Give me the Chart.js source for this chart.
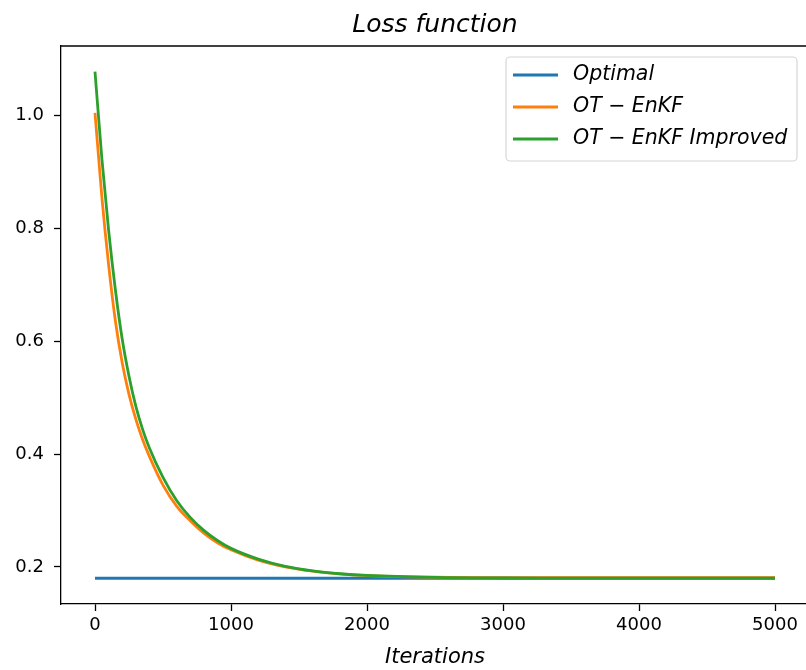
<!DOCTYPE html>
<html>
<head>
<meta charset="utf-8">
<script src="https://cdn.jsdelivr.net/npm/chart.js@4"></script>
<style>
  html, body { margin: 0; padding: 0; background: #fff; overflow: hidden; }
  #wrap { width: 812px; height: 670px; }
</style>
</head>
<body>
<div id="wrap"><canvas id="chart" width="812" height="670"></canvas></div>
<script>
// Values
const ITERS = [0, 50, 100, 150, 200, 250, 300, 350, 400, 500, 600, 700, 800, 900, 1000,
  1200, 1400, 1600, 1800, 2000, 2500, 3000, 3500, 4000, 4500, 5000];
const OT_ENKF = [1.005, 0.857, 0.736, 0.636, 0.562, 0.506, 0.462, 0.426, 0.396, 0.345, 0.308, 0.282,
  0.26, 0.243, 0.2305, 0.2122, 0.2, 0.1925, 0.1877, 0.1848, 0.1818, 0.1812, 0.181, 0.181, 0.181, 0.181];
const OT_ENKF_IMPROVED = [1.078, 0.925, 0.797, 0.691, 0.604, 0.538, 0.485, 0.444, 0.411, 0.359, 0.318, 0.288,
  0.265, 0.247, 0.233, 0.214, 0.201, 0.193, 0.188, 0.185, 0.1815, 0.1805, 0.1803, 0.1802, 0.1802, 0.1802];
const OPTIMAL_X = [0, 5000];
const OPTIMAL = [0.18, 0.18];

const X_TICKS = [0, 1000, 2000, 3000, 4000, 5000];
const Y_TICKS = [0.2, 0.4, 0.6, 0.8, 1.0];
const LABELS = ['Optimal', 'OT \u2212 EnKF', 'OT \u2212 EnKF Improved'];
const COLORS = ['#1f77b4', '#ff7f0e', '#2ca02c'];

const FONT = "'DejaVu Sans', sans-serif";

function pts(xs, ys) {
  return xs.map((x, i) => ({ x: x, y: ys[i] }));
}

// title, top spine and legend box drawn like matplotlib
const decorPlugin = {
  id: 'decor',
  afterDraw(chart) {
    const ctx = chart.ctx;
    const a = chart.chartArea;
    ctx.save();
    // top spine
    ctx.strokeStyle = '#000';
    ctx.lineWidth = 1.3;
    ctx.beginPath();
    ctx.moveTo(a.left, a.top);
    ctx.lineTo(a.right, a.top);
    ctx.stroke();

    // title
    ctx.fillStyle = '#000';
    ctx.font = 'italic 25px ' + FONT;
    ctx.textAlign = 'center';
    ctx.textBaseline = 'middle';
    ctx.fillText('Loss function', (a.left + a.right) / 2, 25);

    // legend
    const w = 291, h = 104;
    const x0 = a.right - 12 - w, y0 = a.top + 11;
    ctx.fillStyle = 'rgba(255,255,255,0.8)';
    ctx.strokeStyle = '#d6d6d6';
    ctx.lineWidth = 1.2;
    ctx.beginPath();
    ctx.roundRect(x0, y0, w, h, 4);
    ctx.fill();
    ctx.stroke();
    ctx.font = 'italic 20.5px ' + FONT;
    ctx.textAlign = 'left';
    LABELS.forEach((lab, i) => {
      const cy = y0 + 18 + i * 32;
      ctx.strokeStyle = COLORS[i];
      ctx.lineWidth = 2.8;
      ctx.beginPath();
      ctx.moveTo(x0 + 7, cy);
      ctx.lineTo(x0 + 52, cy);
      ctx.stroke();
      ctx.fillStyle = '#000';
      ctx.fillText(lab, x0 + 67, cy);
    });
    ctx.restore();
  }
};

const common = {
  borderWidth: 2.8,
  pointRadius: 0,
  fill: false,
  cubicInterpolationMode: 'monotone'
};

new Chart(document.getElementById('chart'), {
  type: 'line',
  data: {
    datasets: [
      Object.assign({ label: LABELS[0], data: pts(OPTIMAL_X, OPTIMAL), borderColor: COLORS[0], order: 2 }, common),
      Object.assign({ label: LABELS[1], data: pts(ITERS, OT_ENKF), borderColor: COLORS[1], order: 1 }, common),
      Object.assign({ label: LABELS[2], data: pts(ITERS, OT_ENKF_IMPROVED), borderColor: COLORS[2], order: 0 }, common)
    ]
  },
  options: {
    responsive: false,
    animation: false,
    devicePixelRatio: 1,
    layout: { padding: { top: 46, right: 3, left: 0, bottom: 0 } },
    plugins: {
      legend: { display: false },
      title: { display: false },
      tooltip: { enabled: false }
    },
    scales: {
      x: {
        type: 'linear',
        min: -250,
        max: 5250,
        afterBuildTicks: s => { s.ticks = X_TICKS.map(v => ({ value: v })); },
        afterFit: s => { s.height = 66; },
        grid: { drawOnChartArea: false, drawTicks: true, tickLength: 7, color: '#000', tickWidth: 1.3 },
        border: { display: true, color: '#000', width: 1.3 },
        ticks: { color: '#000', font: { family: FONT, size: 18 }, padding: 4, maxRotation: 0, callback: v => String(v) },
        title: { display: true, text: 'Iterations', color: '#000', font: { family: FONT, size: 21, style: 'italic' }, padding: { top: 0, bottom: 0 } }
      },
      y: {
        type: 'linear',
        min: 0.1344,
        max: 1.1235,
        afterBuildTicks: s => { s.ticks = Y_TICKS.map(v => ({ value: v })); },
        afterFit: s => { s.width = 61; },
        grid: { drawOnChartArea: false, drawTicks: true, tickLength: 7, color: '#000', tickWidth: 1.3 },
        border: { display: true, color: '#000', width: 1.3 },
        ticks: { color: '#000', font: { family: FONT, size: 18 }, padding: 10, callback: v => v.toFixed(1) }
      }
    }
  },
  plugins: [decorPlugin]
});
</script>
</body>
</html>
